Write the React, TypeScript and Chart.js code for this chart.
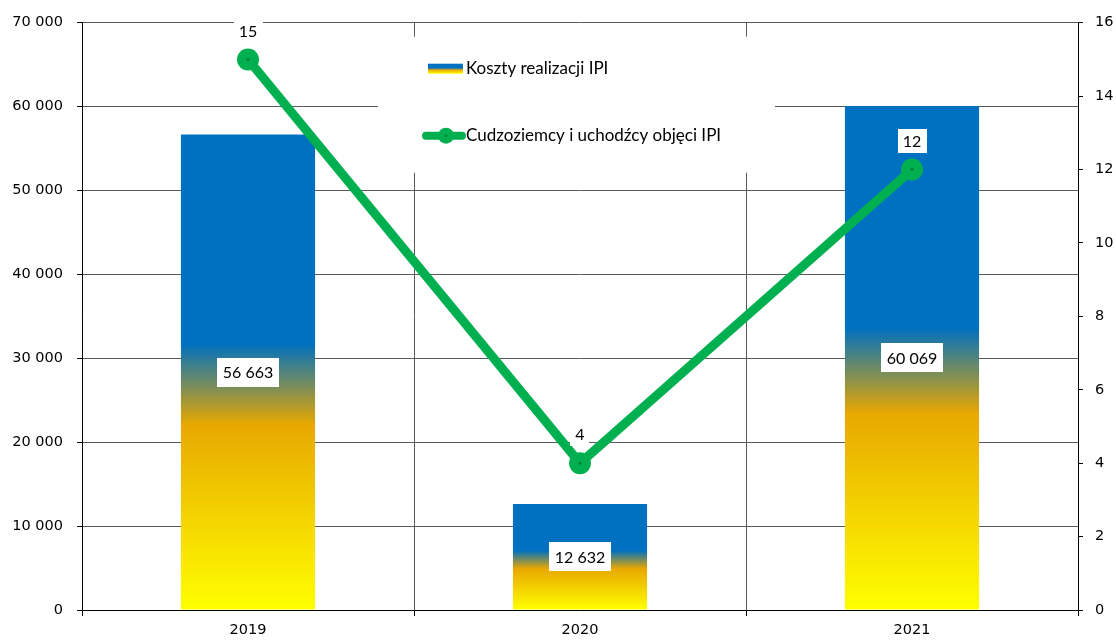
import React, { useEffect, useRef } from "react";
import { Chart, registerables } from "chart.js";

Chart.register(...registerables);

const years = ["2019", "2020", "2021"];
const costs = [56663, 12632, 60069];
const people = [15, 4, 12];
const costLabel = "Koszty realizacji IPI";
const peopleLabel = "Cudzoziemcy i uchodźcy objęci IPI";

const GREEN = "#00B050";
const DARK_GREEN = "#00802F";
const AXIS_FONT = { family: "'DejaVu Sans', Verdana, sans-serif", size: 14.5 };
const LABEL_FONT = "16px Lato, 'Liberation Sans', sans-serif";
const LEGEND_FONT = "17px Lato, 'Liberation Sans', sans-serif";

const fmt = (v: number) =>
  Math.round(v).toString().replace(/\B(?=(\d{3})+(?!\d))/g, " ");

function barGradient(c: CanvasRenderingContext2D, base: number, top: number) {
  const g = c.createLinearGradient(0, base, 0, top);
  g.addColorStop(0, "#FFFF00");
  g.addColorStop(0.39, "#E8A800");
  g.addColorStop(0.56, "#0070C0");
  g.addColorStop(1, "#0070C0");
  return g;
}

function labelBox(c: CanvasRenderingContext2D, text: string, x: number, y: number, padX: number, h: number) {
  c.font = LABEL_FONT;
  const w = c.measureText(text).width + padX * 2;
  c.fillStyle = "#ffffff";
  c.fillRect(Math.round(x - w / 2), Math.round(y - h / 2), Math.round(w), h);
  c.fillStyle = "#000000";
  c.textAlign = "center";
  c.textBaseline = "middle";
  c.fillText(text, x, y + 1);
}

const legendPlugin = {
  id: "boxLegend",
  beforeDatasetsDraw(chart: any) {
    const c: CanvasRenderingContext2D = chart.ctx;
    const a = chart.chartArea;
    const bx = a.left + 296;
    const by = a.top + 14;
    c.save();
    c.fillStyle = "#ffffff";
    c.fillRect(bx, by, 397, 136);
    // item 1 swatch
    const sx = bx + 50;
    const sy = by + 27;
    c.fillStyle = barGradient(c, sy + 10, sy);
    c.fillRect(sx, sy, 35, 10);
    c.font = LEGEND_FONT;
    c.fillStyle = "#000";
    c.textAlign = "left";
    c.textBaseline = "middle";
    c.fillText(costLabel, sx + 38, sy + 5);
    // item 2 line sample
    const ly = by + 99;
    c.strokeStyle = GREEN;
    c.lineWidth = 8;
    c.lineCap = "round";
    c.beginPath();
    c.moveTo(sx - 2, ly);
    c.lineTo(sx + 34, ly);
    c.stroke();
    c.fillStyle = GREEN;
    c.beginPath();
    c.arc(sx + 18, ly, 8, 0, Math.PI * 2);
    c.fill();
    c.fillStyle = DARK_GREEN;
    c.beginPath();
    c.arc(sx + 18, ly, 1.3, 0, Math.PI * 2);
    c.fill();
    c.fillStyle = "#000";
    c.font = LEGEND_FONT;
    c.fillText(peopleLabel, sx + 38, ly);
    c.restore();
  },
};

const labelsPlugin = {
  id: "valueLabels",
  afterDatasetsDraw(chart: any) {
    const c: CanvasRenderingContext2D = chart.ctx;
    c.save();
    const barMeta = chart.getDatasetMeta(0);
    barMeta.data.forEach((el: any, i: number) => {
      const cy = (el.y + el.base) / 2;
      labelBox(c, fmt(costs[i]), el.x, cy, 6, 29);
    });
    const lineMeta = chart.getDatasetMeta(1);
    lineMeta.data.forEach((el: any, i: number) => {
      c.fillStyle = DARK_GREEN;
      c.beginPath();
      c.arc(el.x, el.y, 1.5, 0, Math.PI * 2);
      c.fill();
      labelBox(c, String(people[i]), el.x, el.y - 29, 5, 24);
    });
    c.restore();
  },
};

export default function App() {
  const ref = useRef<HTMLCanvasElement | null>(null);

  useEffect(() => {
    if (!ref.current) return;
    const chart = new Chart(ref.current, {
      type: "bar",
      data: {
        labels: years,
        datasets: [
          {
            type: "bar",
            label: costLabel,
            data: costs,
            yAxisID: "y",
            order: 2,
            barPercentage: 1,
            categoryPercentage: 0.404,
            backgroundColor: (ctx: any) => {
              if (ctx.type !== "data") return "#0070C0";
              const ys = ctx.chart.scales.y;
              if (!ys) return "#0070C0";
              const top = ys.getPixelForValue(ctx.raw);
              const base = ys.getPixelForValue(0);
              if (!isFinite(top) || !isFinite(base) || top === base) return "#0070C0";
              return barGradient(ctx.chart.ctx, base, top);
            },
          } as any,
          {
            type: "line",
            label: peopleLabel,
            data: people,
            yAxisID: "y1",
            order: 1,
            borderColor: GREEN,
            borderWidth: 9,
            tension: 0,
            pointRadius: 11,
            pointBackgroundColor: GREEN,
            pointBorderColor: GREEN,
            pointBorderWidth: 0,
          } as any,
        ],
      },
      options: {
        animation: false,
        responsive: false,
        maintainAspectRatio: false,
        layout: { padding: { top: 22, left: 0, right: 0, bottom: 0 } },
        plugins: {
          legend: { display: false },
          tooltip: { enabled: false },
        },
        scales: {
          x: {
            grid: {
              display: true,
              offset: true,
              color: "#5a5a5a",
              tickColor: "#000",
              tickLength: 6,
              drawOnChartArea: true,
            },
            border: { display: true, color: "#000" },
            ticks: { color: "#000", font: AXIS_FONT, padding: 6 },
            afterFit: (s: any) => {
              s.height = 30;
            },
          },
          y: {
            position: "left",
            min: 0,
            max: 70000,
            ticks: {
              stepSize: 10000,
              color: "#000",
              font: AXIS_FONT,
              padding: 14,
              callback: (v: any) => fmt(Number(v)),
            },
            grid: { color: "#5a5a5a", tickColor: "#000", tickLength: 5 },
            border: { color: "#000" },
            afterFit: (s: any) => {
              s.width = 82;
            },
          },
          y1: {
            position: "right",
            min: 0,
            max: 16,
            ticks: { stepSize: 2, color: "#000", font: AXIS_FONT, padding: 12 },
            grid: { drawOnChartArea: false, tickColor: "#000", tickLength: 5 },
            border: { color: "#000" },
            afterFit: (s: any) => {
              s.width = 38;
            },
          },
        },
      },
      plugins: [legendPlugin, labelsPlugin],
    });
    return () => chart.destroy();
  }, []);

  return (
    <div style={{ position: "fixed", left: 0, top: 0, width: 1116, height: 640, background: "#fff" }}>
      <canvas ref={ref} width={1116} height={640} style={{ width: 1116, height: 640, display: "block" }} />
    </div>
  );
}
